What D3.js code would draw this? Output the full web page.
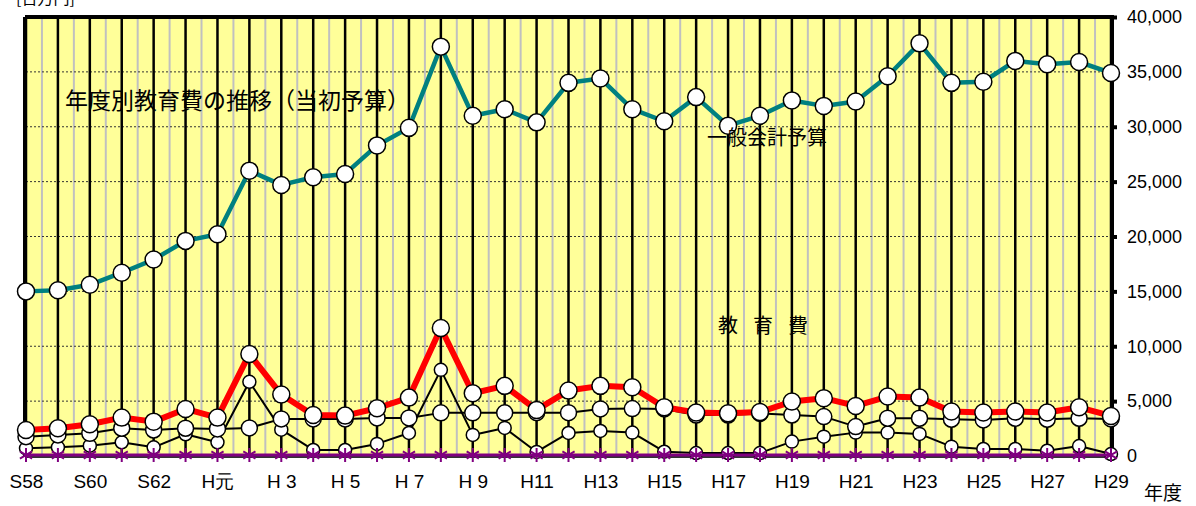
<!DOCTYPE html>
<html lang="ja">
<head>
<meta charset="UTF-8">
<title>年度別教育費の推移</title>
<script src="https://cdn.jsdelivr.net/npm/d3@7"></script>
<style>
  body { margin: 0; background: #fff; }
  svg text { font-family: "Liberation Sans", Arial, sans-serif; }
  .jp { font-family: "Noto Sans CJK JP", sans-serif; }
</style>
</head>
<body>
<script>
// 年度
var years = ["S58","S59","S60","S61","S62","S63","H元","H2","H3","H4","H5","H6","H7","H8","H9","H10",
  "H11","H12","H13","H14","H15","H16","H17","H18","H19","H20","H21","H22","H23","H24","H25","H26","H27","H28","H29"];
var yearLabels = ["S58","","S60","","S62","","H元","","H 3","","H 5","","H 7","","H 9","",
  "H11","","H13","","H15","","H17","","H19","","H21","","H23","","H25","","H27","","H29"];

// 一般会計予算
var general = [15000,15100,15600,16700,17900,19600,20200,26000,24700,25400,25700,28300,29900,37300,31000,31600,
  30400,34000,34400,31600,30500,32700,30100,31000,32400,31900,32300,34600,37600,34000,34100,36000,35700,35900,34900];
// 教育費
var education = [2370,2530,2890,3500,3130,4290,3500,9300,5600,3740,3680,4350,5320,11660,5720,6390,
  4200,5960,6390,6270,4440,3960,3900,4000,4960,5270,4560,5420,5320,4050,3960,4050,3960,4440,3650];
// 内訳（黒線）
var partA = [1760,1920,2070,2530,2370,2530,2470,2560,3380,3380,3380,3470,3470,3930,3930,3930,
  3950,3950,4290,4320,4290,3740,3740,3880,3740,3590,2680,3440,3440,3350,3290,3440,3350,3440,3380];
var partB = [700,790,940,1250,790,1980,1250,6760,2400,550,550,1100,2100,7850,1920,2560,
  370,2100,2280,2130,390,270,270,270,1310,1760,2130,2130,2010,850,640,640,480,910,180];
var partC = years.map(function(){ return 0; });

var yTicks = [0,5000,10000,15000,20000,25000,30000,35000,40000];

var W = 1196, H = 506;
var pL = 26, pR = 1111, pT = 17, pB = 456;

var svg = d3.select("body").append("svg").attr("width", W).attr("height", H);

var x = d3.scalePoint().domain(years).range([pL, pR]);
var y = d3.scaleLinear().domain([0, 40000]).range([pB, pT]);
var step = x.step();

// 背景
svg.append("rect").attr("x", pL).attr("y", pT).attr("width", pR - pL).attr("height", pB - pT)
  .attr("fill", "#FFFF99");

// 補助目盛線（灰）
svg.append("g").selectAll("line").data(years.slice(1)).enter().append("line")
  .attr("x1", function(d){ return x(d) - step / 2; }).attr("x2", function(d){ return x(d) - step / 2; })
  .attr("y1", pT).attr("y2", pB)
  .attr("stroke", "#C0C0C0").attr("stroke-width", 2);

// 横の点線
svg.append("g").selectAll("line").data(yTicks.slice(1, -1)).enter().append("line")
  .attr("x1", pL).attr("x2", pR)
  .attr("y1", function(d){ return y(d); }).attr("y2", function(d){ return y(d); })
  .attr("stroke", "#333").attr("stroke-width", 1).attr("stroke-dasharray", "2,2");

// 目盛線（黒）
svg.append("g").selectAll("line").data(years).enter().append("line")
  .attr("x1", function(d){ return x(d); }).attr("x2", function(d){ return x(d); })
  .attr("y1", pT).attr("y2", pB)
  .attr("stroke", "#000").attr("stroke-width", 2.5);

// 枠
svg.append("line").attr("x1", pL - 1).attr("x2", pR).attr("y1", pT).attr("y2", pT)
  .attr("stroke", "#000").attr("stroke-width", 4);
svg.append("line").attr("x1", pL - 1).attr("x2", pL - 1).attr("y1", pT).attr("y2", pB)
  .attr("stroke", "#000").attr("stroke-width", 4);
svg.append("line").attr("x1", pL).attr("x2", pR).attr("y1", pB + 1).attr("y2", pB + 1)
  .attr("stroke", "#333").attr("stroke-width", 2);

// 右軸
var yAxis = d3.axisRight(y).tickValues(yTicks).tickSize(5).tickPadding(10)
  .tickFormat(d3.format(","));
var gy = svg.append("g").attr("transform", "translate(" + (pR + 1) + ",0)").call(yAxis);
gy.select(".domain").attr("stroke", "#000").attr("stroke-width", 4).attr("d", "M0," + (pT - 2) + "V" + pB);
gy.selectAll(".tick line").attr("stroke", "#000").attr("stroke-width", 4);
gy.selectAll(".tick text").attr("font-size", 18).attr("fill", "#000");

// 下軸ラベル
var xAxis = d3.axisBottom(x).tickSize(0).tickPadding(19)
  .tickFormat(function(d, i){ return yearLabels[i]; });
var gx = svg.append("g").attr("transform", "translate(0," + pB + ")").call(xAxis);
gx.select(".domain").remove();
gx.selectAll(".tick text").attr("font-size", 19).attr("fill", "#000")
  .attr("font-family", "'Liberation Sans', 'Noto Sans CJK JP', sans-serif");

// 系列を描く
function drawSeries(vals, color, width, r) {
  var line = d3.line().x(function(d, i){ return x(years[i]); }).y(function(d){ return y(d); });
  var g = svg.append("g");
  g.append("path").datum(vals).attr("d", line).attr("fill", "none")
    .attr("stroke", color).attr("stroke-width", width).attr("stroke-linejoin", "round");
  g.selectAll("circle").data(vals).enter().append("circle")
    .attr("cx", function(d, i){ return x(years[i]); }).attr("cy", function(d){ return y(d); })
    .attr("r", r).attr("fill", "#fff").attr("stroke", "#000").attr("stroke-width", 1.5);
}

drawSeries(general, "#008080", 4.5, 8.5);
drawSeries(partB, "#000", 2, 6.5);
drawSeries(partA, "#000", 2, 8);
drawSeries(education, "#FF0000", 6, 8.5);

// 0 の系列（紫）
var gp = svg.append("g");
gp.append("line").attr("x1", pL).attr("x2", pR).attr("y1", y(0) - 1).attr("y2", y(0) - 1)
  .attr("stroke", "#800080").attr("stroke-width", 3);
var star = d3.symbol().type(d3.symbolAsterisk).size(140);
gp.selectAll("path.star").data(partC).enter().append("path").attr("class", "star")
  .attr("d", star)
  .attr("transform", function(d, i){ return "translate(" + x(years[i]) + "," + (y(d) - 1) + ")"; })
  .attr("stroke", "#800080").attr("stroke-width", 2).attr("fill", "none");

// 文字
svg.append("text").attr("class", "jp").attr("x", 65).attr("y", 109).attr("font-size", 23)
  .text("年度別教育費の推移（当初予算）");
svg.append("text").attr("class", "jp").attr("x", 707).attr("y", 145).attr("font-size", 20)
  .text("一般会計予算");
svg.append("text").attr("class", "jp").attr("x", 718).attr("y", 333).attr("font-size", 20)
  .attr("letter-spacing", "15px").text("教育費");
svg.append("text").attr("class", "jp").attr("x", 1144).attr("y", 500).attr("font-size", 19)
  .text("年度");
svg.append("text").attr("class", "jp").attr("x", 16).attr("y", 4).attr("font-size", 16)
  .text("[百万円]");
</script>
</body>
</html>
